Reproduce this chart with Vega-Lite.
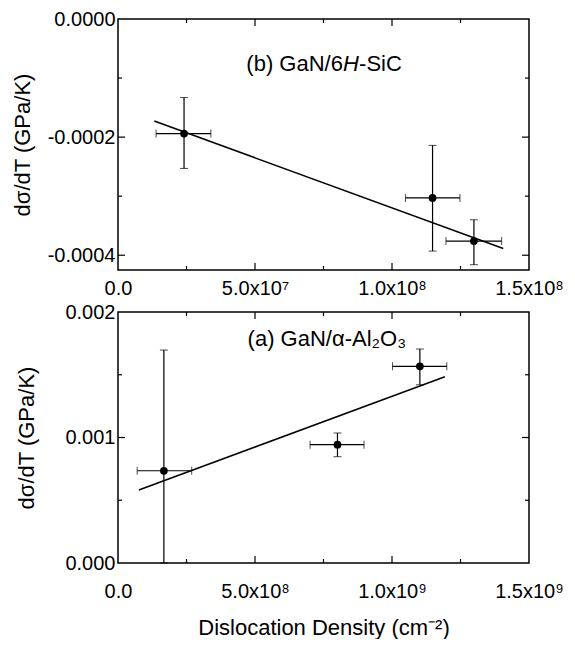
{
  "$schema": "https://vega.github.io/schema/vega-lite/v6.json",
  "padding": {"left": 10, "top": 8, "right": 5, "bottom": 0},
  "spacing": 2,
  "config": {
    "view": {"stroke": "black", "strokeWidth": 1.5},
    "font": "Liberation Sans",
    "axis": {"grid": false, "domain": false, "ticks": false, "labelFont": "Liberation Sans", "titleFont": "Liberation Sans", "labelColor": "black", "titleColor": "black", "labelFontSize": 20, "titleFontSize": 22, "titleFontWeight": "normal", "labelFlush": false, "labelOverlap": false, "labelBound": false}
  },
  "datasets": {
    "sic": [
      {"n": 2.41e7, "s": -0.000194, "nlo": 1.39e7, "nhi": 3.39e7, "slo": -0.000253, "shi": -0.000133},
      {"n": 1.148e8, "s": -0.000303, "nlo": 1.049e8, "nhi": 1.248e8, "slo": -0.000393, "shi": -0.000214},
      {"n": 1.299e8, "s": -0.000376, "nlo": 1.197e8, "nhi": 1.40e8, "slo": -0.000416, "shi": -0.00034}
    ],
    "sicfit": [
      {"n": 1.325e7, "s": -0.0001727},
      {"n": 1.406e8, "s": -0.0003887}
    ],
    "sicXMajor": [
      {"n": 5e7, "s": -0.000425}, {"n": 1e8, "s": -0.000425},
      {"n": 5e7, "s": 0}, {"n": 1e8, "s": 0}
    ],
    "sicXMinor": [
      {"n": 2.5e7, "s": -0.000425}, {"n": 7.5e7, "s": -0.000425}, {"n": 1.25e8, "s": -0.000425},
      {"n": 2.5e7, "s": 0}, {"n": 7.5e7, "s": 0}, {"n": 1.25e8, "s": 0}
    ],
    "sicYMajor": [
      {"n": 0, "s": -0.0002}, {"n": 0, "s": -0.0004},
      {"n": 1.5e8, "s": -0.0002}, {"n": 1.5e8, "s": -0.0004}
    ],
    "sicYMinor": [
      {"n": 0, "s": -0.0001}, {"n": 0, "s": -0.0003},
      {"n": 1.5e8, "s": -0.0001}, {"n": 1.5e8, "s": -0.0003}
    ],
    "al": [
      {"n": 1.674e8, "s": 0.000735, "nlo": 7.0e7, "nhi": 2.69e8, "slo": 0.0, "shi": 0.001697},
      {"n": 8.01e8, "s": 0.000943, "nlo": 7.01e8, "nhi": 8.98e8, "slo": 0.000847, "shi": 0.001036},
      {"n": 1.1017e9, "s": 0.001567, "nlo": 1.002e9, "nhi": 1.2e9, "slo": 0.00142, "shi": 0.001705}
    ],
    "alfit": [
      {"n": 7.6e7, "s": 0.000582},
      {"n": 1.193e9, "s": 0.001484}
    ],
    "alXMajor": [
      {"n": 5e8, "s": 0}, {"n": 1e9, "s": 0},
      {"n": 5e8, "s": 0.002}, {"n": 1e9, "s": 0.002}
    ],
    "alXMinor": [
      {"n": 2.5e8, "s": 0}, {"n": 7.5e8, "s": 0}, {"n": 1.25e9, "s": 0},
      {"n": 2.5e8, "s": 0.002}, {"n": 7.5e8, "s": 0.002}, {"n": 1.25e9, "s": 0.002}
    ],
    "alYMajor": [
      {"n": 0, "s": 0.001}, {"n": 1.5e9, "s": 0.001}
    ],
    "alYMinor": [
      {"n": 0, "s": 0.0005}, {"n": 0, "s": 0.0015},
      {"n": 1.5e9, "s": 0.0005}, {"n": 1.5e9, "s": 0.0015}
    ]
  },
  "vconcat": [
    {
      "width": 411,
      "height": 251,
      "resolve": {"axis": {"x": "independent", "y": "independent"}},
      "encoding": {
        "x": {"field": "n", "type": "quantitative", "scale": {"domain": [0, 1.5e8], "nice": false, "zero": false}, "axis": null},
        "y": {"field": "s", "type": "quantitative", "scale": {"domain": [-0.000425, 0], "nice": false, "zero": false}, "axis": null}
      },
      "layer": [
        {
          "data": {"name": "sic"},
          "mark": {"type": "circle", "size": 60, "color": "black", "opacity": 1},
          "encoding": {
            "x": {"field": "n", "type": "quantitative", "scale": {"domain": [0, 1.5e8], "nice": false, "zero": false},
              "axis": {"orient": "bottom", "title": null, "values": [0, 5e7, 1e8, 1.5e8],
                "labelExpr": "datum.value == 0 ? '0.0' : abs(datum.value - 5e7) < 1 ? '5.0x10⁷' : abs(datum.value - 1e8) < 1 ? '1.0x10⁸' : '1.5x10⁸'",
                "labelPadding": 8}},
            "y": {"field": "s", "type": "quantitative", "scale": {"domain": [-0.000425, 0], "nice": false, "zero": false},
              "axis": {"orient": "left", "title": "dσ/dT (GPa/K)", "titlePadding": 13, "values": [0, -0.0002, -0.0004],
                "labelExpr": "abs(datum.value) < 1e-9 ? '0.0000' : abs(datum.value + 0.0002) < 1e-9 ? '-0.0002' : '-0.0004'",
                "labelPadding": 3}}
          }
        },
        {
          "data": {"name": "sicXMajor"},
          "mark": {"type": "tick", "orient": "vertical", "size": 14, "thickness": 1.2, "color": "black", "opacity": 1, "clip": true}
        },
        {
          "data": {"name": "sicXMinor"},
          "mark": {"type": "tick", "orient": "vertical", "size": 8, "thickness": 1.2, "color": "black", "opacity": 1, "clip": true}
        },
        {
          "data": {"name": "sicYMajor"},
          "mark": {"type": "tick", "orient": "horizontal", "size": 14, "thickness": 1.2, "color": "black", "opacity": 1, "clip": true}
        },
        {
          "data": {"name": "sicYMinor"},
          "mark": {"type": "tick", "orient": "horizontal", "size": 8, "thickness": 1.2, "color": "black", "opacity": 1, "clip": true}
        },
        {
          "data": {"name": "sicfit"},
          "mark": {"type": "line", "color": "black", "strokeWidth": 1.5}
        },
        {
          "data": {"name": "sic"},
          "mark": {"type": "errorbar", "color": "black", "ticks": {"size": 8, "color": "black", "strokeWidth": 1.2}, "rule": {"strokeWidth": 1.2, "color": "black"}},
          "encoding": {
            "x": {"field": "n", "type": "quantitative", "axis": null},
            "y": {"field": "slo", "type": "quantitative", "axis": null},
            "y2": {"field": "shi"}
          }
        },
        {
          "data": {"name": "sic"},
          "mark": {"type": "errorbar", "color": "black", "ticks": {"size": 8, "color": "black", "strokeWidth": 1.2}, "rule": {"strokeWidth": 1.2, "color": "black"}},
          "encoding": {
            "y": {"field": "s", "type": "quantitative", "axis": null},
            "x": {"field": "nlo", "type": "quantitative", "axis": null},
            "x2": {"field": "nhi"}
          }
        },
        {
          "data": {"values": [{"n": 8.21e7, "s": -0.0000759, "t": "(b) GaN/6"}]},
          "mark": {"type": "text", "align": "right", "baseline": "middle", "fontSize": 22, "font": "Liberation Sans", "color": "black"},
          "encoding": {"text": {"field": "t"}}
        },
        {
          "data": {"values": [{"n": 8.21e7, "s": -0.0000759, "t": "H"}]},
          "mark": {"type": "text", "align": "left", "baseline": "middle", "fontSize": 22, "font": "Liberation Sans", "fontStyle": "italic", "color": "black"},
          "encoding": {"text": {"field": "t"}}
        },
        {
          "data": {"values": [{"n": 8.8e7, "s": -0.0000759, "t": "-SiC"}]},
          "mark": {"type": "text", "align": "left", "baseline": "middle", "fontSize": 22, "font": "Liberation Sans", "color": "black"},
          "encoding": {"text": {"field": "t"}}
        }
      ]
    },
    {
      "width": 411,
      "height": 251,
      "resolve": {"axis": {"x": "independent", "y": "independent"}},
      "encoding": {
        "x": {"field": "n", "type": "quantitative", "scale": {"domain": [0, 1.5e9], "nice": false, "zero": false}, "axis": null},
        "y": {"field": "s", "type": "quantitative", "scale": {"domain": [0, 0.002], "nice": false, "zero": false}, "axis": null}
      },
      "layer": [
        {
          "data": {"name": "al"},
          "mark": {"type": "circle", "size": 60, "color": "black", "opacity": 1},
          "encoding": {
            "x": {"field": "n", "type": "quantitative", "scale": {"domain": [0, 1.5e9], "nice": false, "zero": false},
              "axis": {"orient": "bottom", "title": "Dislocation Density (cm⁻²)", "titlePadding": 16, "values": [0, 5e8, 1e9, 1.5e9],
                "labelExpr": "datum.value == 0 ? '0.0' : abs(datum.value - 5e8) < 1 ? '5.0x10⁸' : abs(datum.value - 1e9) < 1 ? '1.0x10⁹' : '1.5x10⁹'",
                "labelPadding": 18}},
            "y": {"field": "s", "type": "quantitative", "scale": {"domain": [0, 0.002], "nice": false, "zero": false},
              "axis": {"orient": "left", "title": "dσ/dT (GPa/K)", "titlePadding": 26, "values": [0, 0.001, 0.002],
                "labelExpr": "abs(datum.value) < 1e-9 ? '0.000' : abs(datum.value - 0.001) < 1e-9 ? '0.001' : '0.002'",
                "labelPadding": 3}}
          }
        },
        {
          "data": {"name": "alXMajor"},
          "mark": {"type": "tick", "orient": "vertical", "size": 14, "thickness": 1.2, "color": "black", "opacity": 1, "clip": true}
        },
        {
          "data": {"name": "alXMinor"},
          "mark": {"type": "tick", "orient": "vertical", "size": 8, "thickness": 1.2, "color": "black", "opacity": 1, "clip": true}
        },
        {
          "data": {"name": "alYMajor"},
          "mark": {"type": "tick", "orient": "horizontal", "size": 14, "thickness": 1.2, "color": "black", "opacity": 1, "clip": true}
        },
        {
          "data": {"name": "alYMinor"},
          "mark": {"type": "tick", "orient": "horizontal", "size": 8, "thickness": 1.2, "color": "black", "opacity": 1, "clip": true}
        },
        {
          "data": {"name": "alfit"},
          "mark": {"type": "line", "color": "black", "strokeWidth": 1.5}
        },
        {
          "data": {"name": "al"},
          "mark": {"type": "errorbar", "color": "black", "ticks": {"size": 8, "color": "black", "strokeWidth": 1.2}, "rule": {"strokeWidth": 1.2, "color": "black"}},
          "encoding": {
            "x": {"field": "n", "type": "quantitative", "axis": null},
            "y": {"field": "slo", "type": "quantitative", "axis": null},
            "y2": {"field": "shi"}
          }
        },
        {
          "data": {"name": "al"},
          "mark": {"type": "errorbar", "color": "black", "ticks": {"size": 8, "color": "black", "strokeWidth": 1.2}, "rule": {"strokeWidth": 1.2, "color": "black"}},
          "encoding": {
            "y": {"field": "s", "type": "quantitative", "axis": null},
            "x": {"field": "nlo", "type": "quantitative", "axis": null},
            "x2": {"field": "nhi"}
          }
        },
        {
          "data": {"values": [{"n": 4.73e8, "s": 0.001785, "t": "(a) GaN/α-Al₂O₃"}]},
          "mark": {"type": "text", "align": "left", "baseline": "middle", "fontSize": 22, "font": "Liberation Sans", "color": "black"},
          "encoding": {"text": {"field": "t"}}
        }
      ]
    }
  ]
}
